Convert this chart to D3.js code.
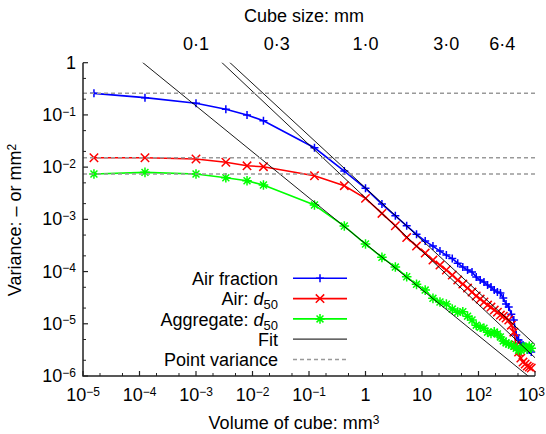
<!DOCTYPE html>
<html>
<head>
<meta charset="utf-8">
<script src="https://cdn.jsdelivr.net/npm/d3@7"></script>
<style>
  body { margin: 0; background: #fff; }
  text { font-family: "Liberation Sans", Arial, sans-serif; fill: #000; }
</style>
</head>
<body>
<div id="chart"></div>
<script>
// Cube edge length (mm) for every sample point; volume = size^3
const cubeSizes = [0.025, 0.05, 0.1, 0.15, 0.2, 0.25, 0.5, 0.75, 1, 1.25, 1.5, 1.75, 2,
  2.25, 2.5, 2.75, 3, 3.25, 3.5, 3.75, 4, 4.25, 4.5, 4.75, 5, 5.25, 5.5, 5.75, 6,
  6.25, 6.5, 6.75, 7, 7.25, 7.5, 7.75, 8, 8.25, 8.5, 8.75, 9, 9.25, 9.5];

// Variance of each series
const airFraction = [0.259, 0.214, 0.167, 0.128, 0.0995, 0.0774, 0.0235, 0.00841, 0.00393,
  0.00196, 0.00117, 7.53e-4, 5.16e-4, 3.84e-4, 3.08e-4, 2.47e-4, 2.07e-4, 1.77e-4, 1.45e-4,
  1.22e-4, 1.07e-4, 9.8e-5, 7.85e-5, 6.87e-5, 6.29e-5, 5.51e-5, 5.04e-5, 4.42e-5, 4.05e-5,
  3.87e-5, 3.11e-5, 2.38e-5, 2.09e-5, 1.53e-5, 1.18e-5, 6.08e-6, 4.88e-6, 4.27e-6, 3.91e-6,
  3.58e-6, 3.13e-6, 3.13e-6, 2.87e-6];
const airD50 = [0.0151, 0.0151, 0.0143, 0.0124, 0.0106, 0.0102, 0.00684, 0.00441, 0.00252,
  0.00130, 7.53e-4, 4.48e-4, 3.08e-4, 2.26e-4, 1.66e-4, 1.33e-4, 1.07e-4, 8.57e-5, 6.87e-5,
  5.76e-5, 4.83e-5, 4.05e-5, 3.40e-5, 2.97e-5, 2.61e-5, 2.28e-5, 2.09e-5, 1.83e-5, 1.67e-5,
  1.47e-5, 1.40e-5, 1.29e-5, 1.18e-5, 9.4e-6, 6.9e-6, 3.9e-6, 2.87e-6, 2.20e-6, 1.85e-6,
  1.69e-6, 1.55e-6, 1.48e-6, 1.42e-6];
const aggregateD50 = [0.00738, 0.00794, 0.00738, 0.00627, 0.00548, 0.00454, 0.00188, 7.45e-4,
  3.37e-4, 1.87e-4, 1.22e-4, 7.94e-5, 5.69e-5, 4.42e-5, 3.07e-5, 2.61e-5, 2.38e-5, 1.91e-5,
  1.67e-5, 1.70e-5, 1.40e-5, 1.18e-5, 9.4e-6, 8.6e-6, 8.2e-6, 6.9e-6, 6.5e-6, 7.0e-6, 6.4e-6,
  5.6e-6, 4.7e-6, 4.3e-6, 4.1e-6, 3.9e-6, 3.7e-6, 3.4e-6, 3.1e-6, 3.1e-6, 3.6e-6, 3.6e-6,
  3.3e-6, 3.7e-6, 3.4e-6];

// Point variance of each series and power-law fits: var = coef * V^exp
const pointVariance = [0.26, 0.0151, 0.00738];
const fitCoef = [4.0e-3, 2.57e-3, 3.41e-4];
const fitExp = [-1, -1.02, -0.88];

const seriesNames = ["Air fraction", "Air: d50", "Aggregate: d50"];
const seriesColors = ["#0000ff", "#ff0000", "#00ff00"];
const seriesMarkers = ["plus", "cross", "star"];

// Axis ticks
const xExponents = [-5, -4, -3, -2, -1, 0, 1, 2, 3];
const yExponents = [0, -1, -2, -3, -4, -5, -6];
const topSizes = [0.1, 0.3, 1.0, 3.0, 6.4];
const topLabels = ["0·1", "0·3", "1·0", "3·0", "6·4"];

const width = 546;
const height = 434;
const plot = {left: 83, right: 535, top: 62.7, bottom: 376};

const svg = d3.select("#chart")
  .append("svg")
  .attr("width", width)
  .attr("height", height);

const x = d3.scaleLog().domain([1e-5, 1e3]).range([plot.left, plot.right]);
const y = d3.scaleLog().domain([1e-6, 1]).range([plot.bottom, plot.top]);

svg.append("defs").append("clipPath").attr("id", "clip")
  .append("rect")
  .attr("x", plot.left).attr("y", plot.top)
  .attr("width", plot.right - plot.left + 1)
  .attr("height", plot.bottom - plot.top);

const volumes = cubeSizes.map(s => s * s * s);
const series = [airFraction, airD50, aggregateD50];

// Data lines
const line = d3.line().x(d => x(d[0])).y(d => y(d[1]));
const gData = svg.append("g").attr("clip-path", "url(#clip)");

function markerPath(type, r) {
  if (type === "plus") return `M${-r},0H${r}M0,${-r}V${r}`;
  if (type === "cross") return `M${-r},${-r}L${r},${r}M${-r},${r}L${r},${-r}`;
  const d = r * 0.72;
  return `M${-r},0H${r}M0,${-r}V${r}M${-d},${-d}L${d},${d}M${-d},${d}L${d},${-d}`;
}
const markerSize = [4, 4.2, 4.8];

series.forEach((vals, i) => {
  const pts = volumes.map((v, j) => [v, vals[j]]);
  gData.append("path")
    .attr("d", line(pts))
    .attr("fill", "none")
    .attr("stroke", seriesColors[i])
    .attr("stroke-width", 1.6);
  gData.selectAll(null)
    .data(pts)
    .enter()
    .append("path")
    .attr("transform", d => `translate(${x(d[0])},${y(d[1])})`)
    .attr("d", markerPath(seriesMarkers[i], markerSize[i]))
    .attr("fill", "none")
    .attr("stroke", seriesColors[i])
    .attr("stroke-width", 1.5);
});

// Fit lines
fitCoef.forEach((c, i) => {
  const ends = x.domain().map(v => [v, c * Math.pow(v, fitExp[i])]);
  gData.append("path")
    .attr("d", line(ends))
    .attr("fill", "none")
    .attr("stroke", "#000")
    .attr("stroke-width", 0.9);
});

// Point variance lines
pointVariance.forEach(pv => {
  svg.append("line")
    .attr("x1", plot.left).attr("x2", plot.right)
    .attr("y1", y(pv)).attr("y2", y(pv))
    .attr("stroke", "#999")
    .attr("stroke-width", 1.5)
    .attr("stroke-dasharray", "4,3");
});

// Axes
const axisColor = "#222";
svg.append("path")
  .attr("d", `M${plot.left},${plot.top}V${plot.bottom}H${plot.right}`)
  .attr("fill", "none")
  .attr("stroke", axisColor)
  .attr("stroke-width", 1.5);

function minorTicks(exps) {
  const lo = d3.min(exps), hi = d3.max(exps);
  const out = [];
  for (let e = lo; e < hi; e++) {
    [2, 5].forEach(m => out.push(m * Math.pow(10, e)));
  }
  return out;
}

// x ticks (pointing up, into the plot)
xExponents.forEach(e => {
  const px = x(Math.pow(10, e));
  svg.append("line").attr("x1", px).attr("x2", px)
    .attr("y1", plot.bottom).attr("y2", plot.bottom - 5)
    .attr("stroke", axisColor).attr("stroke-width", 1.2);
});
minorTicks(xExponents).forEach(v => {
  svg.append("line").attr("x1", x(v)).attr("x2", x(v))
    .attr("y1", plot.bottom).attr("y2", plot.bottom - 3)
    .attr("stroke", axisColor).attr("stroke-width", 1);
});
// y ticks (pointing right)
yExponents.forEach(e => {
  const py = y(Math.pow(10, e));
  svg.append("line").attr("x1", plot.left).attr("x2", plot.left + 5)
    .attr("y1", py).attr("y2", py)
    .attr("stroke", axisColor).attr("stroke-width", 1.2);
});
minorTicks(yExponents).forEach(v => {
  svg.append("line").attr("x1", plot.left).attr("x2", plot.left + 3)
    .attr("y1", y(v)).attr("y2", y(v))
    .attr("stroke", axisColor).attr("stroke-width", 1);
});

function powerLabel(sel, e) {
  if (e === 0) { sel.text("1"); return; }
  if (e === 1) { sel.text("10"); return; }
  sel.append("tspan").text("10");
  sel.append("tspan")
    .attr("dy", "-0.45em")
    .attr("font-size", "12px")
    .text(e < 0 ? "−" + (-e) : String(e));
}

xExponents.forEach(e => {
  const t = svg.append("text")
    .attr("x", x(Math.pow(10, e)) - (e === 3 ? 3.5 : 0))
    .attr("y", 401)
    .attr("text-anchor", "middle")
    .attr("font-size", "18px");
  powerLabel(t, e);
});
yExponents.forEach(e => {
  const t = svg.append("text")
    .attr("x", 76)
    .attr("y", y(Math.pow(10, e)) + 6)
    .attr("text-anchor", "end")
    .attr("font-size", "18px");
  powerLabel(t, e);
});

// Top cube-size labels
topSizes.forEach((s, i) => {
  svg.append("text")
    .attr("x", x(s * s * s))
    .attr("y", 50)
    .attr("text-anchor", "middle")
    .attr("font-size", "18px")
    .text(topLabels[i]);
});
svg.append("text")
  .attr("x", 304)
  .attr("y", 22)
  .attr("text-anchor", "middle")
  .attr("font-size", "18px")
  .text("Cube size: mm");

// Axis titles
const xTitle = svg.append("text")
  .attr("x", 294)
  .attr("y", 429)
  .attr("text-anchor", "middle")
  .attr("font-size", "18px");
xTitle.append("tspan").text("Volume of cube: mm");
xTitle.append("tspan").attr("dy", "-0.45em").attr("font-size", "12px").text("3");

const yTitle = svg.append("text")
  .attr("transform", "translate(21,220) rotate(-90)")
  .attr("text-anchor", "middle")
  .attr("font-size", "18px");
yTitle.append("tspan").text("Variance: – or mm");
yTitle.append("tspan").attr("dy", "-0.45em").attr("font-size", "12px").text("2");

// Legend
const legendX = 278, legendY0 = 278.3, legendStep = 20.3;
const legendItems = seriesNames.concat(["Fit", "Point variance"]);
legendItems.forEach((name, i) => {
  const ly = legendY0 + i * legendStep;
  const t = svg.append("text")
    .attr("x", legendX)
    .attr("y", ly + 6.7)
    .attr("text-anchor", "end")
    .attr("font-size", "18px");
  const m = name.match(/^(.*)d50$/);
  if (m) {
    t.append("tspan").text(m[1]);
    t.append("tspan").attr("font-style", "italic").text("d");
    t.append("tspan").attr("dy", "0.3em").attr("font-size", "13px").text("50");
  } else {
    t.text(name);
  }
  const seg = svg.append("line")
    .attr("x1", 293).attr("x2", 347)
    .attr("y1", ly).attr("y2", ly);
  if (i < 3) {
    seg.attr("stroke", seriesColors[i]).attr("stroke-width", 1.6);
    svg.append("path")
      .attr("transform", `translate(320,${ly})`)
      .attr("d", markerPath(seriesMarkers[i], markerSize[i]))
      .attr("fill", "none")
      .attr("stroke", seriesColors[i])
      .attr("stroke-width", 1.5);
  } else if (i === 3) {
    seg.attr("stroke", "#333").attr("stroke-width", 1.2);
  } else {
    seg.attr("stroke", "#999").attr("stroke-width", 1.3).attr("stroke-dasharray", "4,3");
  }
});
</script>
</body>
</html>
